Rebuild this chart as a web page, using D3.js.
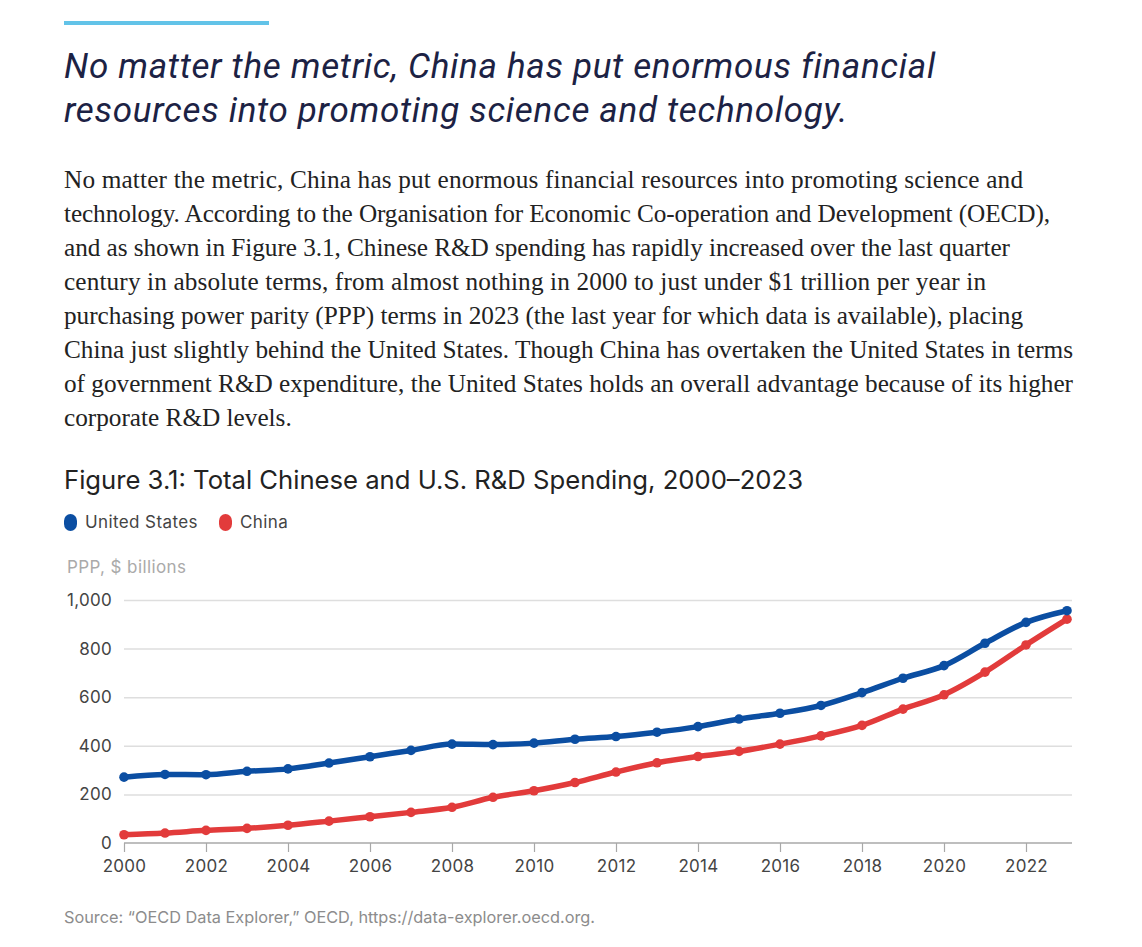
<!DOCTYPE html>
<html>
<head>
<meta charset="utf-8">
<script src="https://cdn.jsdelivr.net/npm/d3@7"></script>
<style>
  html, body { margin: 0; padding: 0; background: #fff; }
  svg { display: block; }
</style>
</head>
<body>
<script>
// data (PPP, $ billions)
const years = d3.range(2000, 2024);
const usValues = [271, 282, 281, 295, 305, 329, 355, 381, 407, 405, 411, 427,
                  438, 456, 479, 510, 534, 566, 619, 678, 730, 822, 908, 956];
const chinaValues = [34, 41, 52, 60, 73, 90, 108, 126, 147, 188, 215, 249,
                     292, 330, 356, 377, 407, 441, 484, 551, 610, 703, 815, 921];
const yTicks = [0, 200, 400, 600, 800, 1000];
const xTicks = d3.range(2000, 2023, 2);

const headingLines = [
  'No matter the metric, China has put enormous financial',
  'resources into promoting science and technology.'
];
const paragraphLines = [
  'No matter the metric, China has put enormous financial resources into promoting science and',
  'technology. According to the Organisation for Economic Co-operation and Development (OECD),',
  'and as shown in Figure 3.1, Chinese R&D spending has rapidly increased over the last quarter',
  'century in absolute terms, from almost nothing in 2000 to just under $1 trillion per year in',
  'purchasing power parity (PPP) terms in 2023 (the last year for which data is available), placing',
  'China just slightly behind the United States. Though China has overtaken the United States in terms',
  'of government R&D expenditure, the United States holds an overall advantage because of its higher',
  'corporate R&D levels.'
];
// right edges of the wrapped paragraph lines, as measured on the reference
const paragraphEnds = [1023, 1050, 1010, 986, 1023, 1073, 1073, null];
const seriesNames = ['United States', 'China'];
const seriesColors = ['#0b4ea2', '#e23b3b'];

const width = 1142;
const height = 947;
const left = 64;
const sans = 'Inter, Roboto, sans-serif';

const svg = d3.select('body')
  .append('svg')
    .attr('width', width)
    .attr('height', height);

// scale a text's font size so that it spans the given width
const fitWidth = (sel, node, target) => {
  for (let k = 0; k < 3; k++) {
    const w = node.getComputedTextLength();
    const size = parseFloat(sel.attr('font-size'));
    sel.attr('font-size', (size * target / w).toFixed(2));
  }
};

// accent bar
svg.append('rect')
    .attr('x', left)
    .attr('y', 21)
    .attr('width', 205)
    .attr('height', 4)
    .attr('fill', '#62c3e8');

// heading
const heading = svg.append('text')
    .attr('font-family', 'Roboto, "Open Sans", sans-serif')
    .attr('font-style', 'italic')
    .attr('font-size', 29)
    .attr('letter-spacing', 0.7)
    .attr('fill', '#1c2244');
heading.selectAll('tspan')
  .data(headingLines)
  .enter()
  .append('tspan')
    .attr('x', left)
    .attr('y', (d, i) => 78 + i * 44)
    .text(d => d);
fitWidth(heading, heading.select('tspan').node(), 936 - left);

// paragraph
const para = svg.append('text')
    .attr('font-family', '"Liberation Serif", "Times New Roman", serif')
    .attr('font-size', 22)
    .attr('fill', '#222');
para.selectAll('tspan')
  .data(paragraphLines)
  .enter()
  .append('tspan')
    .attr('x', left)
    .attr('y', (d, i) => 188 + i * 34)
    .text(d => d);
fitWidth(para, para.selectAll('tspan').nodes()[5], 1073 - left);
para.selectAll('tspan')
  .filter((d, i) => paragraphEnds[i] !== null)
    .attr('textLength', (d, i) => paragraphEnds[i] - left)
    .attr('lengthAdjust', 'spacing');

// figure title
const title = svg.append('text')
    .attr('x', left)
    .attr('y', 489)
    .attr('font-family', sans)
    .attr('font-size', 24)
    .attr('fill', '#222')
    .text('Figure 3.1: Total Chinese and U.S. R&D Spending, 2000\u20132023');
fitWidth(title, title.node(), 803 - left);

// legend
const legendX = [64, 219];
const legend = svg.append('g')
  .selectAll('g')
  .data(seriesNames)
  .enter()
  .append('g')
    .attr('transform', (d, i) => `translate(${legendX[i]}, 0)`);
legend.append('rect')
    .attr('x', 0)
    .attr('y', 514)
    .attr('width', 13)
    .attr('height', 17)
    .attr('rx', 6.5)
    .attr('ry', 7)
    .attr('fill', (d, i) => seriesColors[i]);
legend.append('text')
    .attr('x', 21)
    .attr('y', 528)
    .attr('font-family', sans)
    .attr('font-size', 17)
    .attr('letter-spacing', 0.4)
    .attr('fill', '#444')
    .text(d => d);

// axis unit label
svg.append('text')
    .attr('x', 67)
    .attr('y', 573)
    .attr('font-family', sans)
    .attr('font-size', 17)
    .attr('letter-spacing', 0.4)
    .attr('fill', '#aaa')
    .text('PPP, $ billions');

// scales
const xScale = d3.scaleLinear()
    .domain([2000, 2023])
    .range([124, 1067]);
const yScale = d3.scaleLinear()
    .domain([0, 1000])
    .range([843, 600]);
const plotRight = 1072;

// y axis with gridlines
const yAxis = d3.axisLeft(yScale)
    .tickValues(yTicks)
    .tickSize(-(plotRight - 124))
    .tickPadding(12)
    .tickFormat(d3.format(','));
svg.append('g')
    .attr('transform', 'translate(124, 0)')
    .call(yAxis)
    .call(g => g.select('.domain').remove())
    .call(g => g.selectAll('.tick line')
        .attr('stroke', '#dedede')
        .attr('stroke-width', 1.5)
        .attr('opacity', d => d === 0 ? 0 : 1))
    .call(g => g.selectAll('.tick text')
        .attr('font-family', sans)
        .attr('font-size', 17)
        .attr('letter-spacing', 0.3)
        .attr('fill', '#444'));

// x axis
const xAxis = d3.axisBottom(xScale)
    .tickValues(xTicks)
    .tickSize(9)
    .tickPadding(8)
    .tickFormat(d3.format('d'));
svg.append('g')
    .attr('transform', `translate(0, ${yScale(0)})`)
    .call(xAxis)
    .call(g => g.select('.domain')
        .attr('d', `M124,0H${plotRight}`)
        .attr('stroke', '#a8a8a8')
        .attr('stroke-width', 1.5))
    .call(g => g.selectAll('.tick line')
        .attr('stroke', '#a8a8a8')
        .attr('stroke-width', 1.2))
    .call(g => g.selectAll('.tick text')
        .attr('font-family', sans)
        .attr('font-size', 17)
        .attr('letter-spacing', 0.3)
        .attr('fill', '#444'));

// lines and points
const series = [usValues, chinaValues].map((vals, i) => ({
  name: seriesNames[i],
  color: seriesColors[i],
  points: vals.map((v, j) => [years[j], v])
}));

const line = d3.line()
    .x(d => xScale(d[0]))
    .y(d => yScale(d[1]))
    .curve(d3.curveMonotoneX);

const seriesG = svg.append('g')
  .selectAll('g')
  .data(series.slice().reverse())
  .enter()
  .append('g');
seriesG.append('path')
    .attr('d', d => line(d.points))
    .attr('fill', 'none')
    .attr('stroke', d => d.color)
    .attr('stroke-width', 5.5)
    .attr('stroke-linejoin', 'round')
    .attr('stroke-linecap', 'round');
seriesG.selectAll('circle')
  .data(d => d.points.map(p => ({p, color: d.color})))
  .enter()
  .append('circle')
    .attr('cx', d => xScale(d.p[0]))
    .attr('cy', d => yScale(d.p[1]))
    .attr('r', 4.8)
    .attr('fill', d => d.color);

// source
const source = svg.append('text')
    .attr('x', left)
    .attr('y', 923)
    .attr('font-family', sans)
    .attr('font-size', 15)
    .attr('fill', '#8c8c8c')
    .text('Source: \u201cOECD Data Explorer,\u201d OECD, https://data-explorer.oecd.org.');
fitWidth(source, source.node(), 595 - left);
</script>
</body>
</html>
